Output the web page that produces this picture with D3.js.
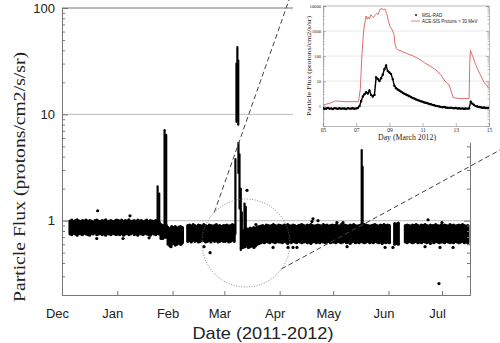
<!DOCTYPE html>
<html><head>
<meta charset="utf-8">
<script src="https://cdnjs.cloudflare.com/ajax/libs/d3/7.8.5/d3.min.js"></script>
<style>
  body { margin: 0; background: #fff; }
  svg { display: block; }
  .sans { font-family: "Liberation Sans", Arial, sans-serif; fill: #222; }
  .serif { font-family: "Liberation Serif", "Times New Roman", serif; fill: #222; }
  .ax path, .ax line { stroke: #777; }
  .iax path, .iax line { stroke: #888; stroke-width: 0.6; }
</style>
</head>
<body>
<svg id="chart" width="500" height="343"></svg>
<script>
// ---- main panel: days counted from 1 Dec 2011 ----
var monthNames = ["Dec", "Jan", "Feb", "Mar", "Apr", "May", "Jun", "Jul"];
var monthStartDay = [0, 31, 62, 91, 122, 152, 183, 213];
var yMajorTicks = [1, 10, 100];

// lower / upper edge of the MSL-RAD dot band, one value per day of month (null = no data)
var decLow  = [null,null,null,null,0.75,0.74,0.76,0.75,0.73,0.76,0.75,0.74,0.76,0.75,0.74,0.73,0.76,0.75,0.77,0.74,0.75,0.76,0.74,0.75,0.73,0.76,0.75,0.74,0.76,0.75,0.74];
var decHigh = [null,null,null,null,0.99,1.01,0.98,1.0,1.02,0.99,0.98,1.0,0.99,1.01,0.98,1.0,0.99,0.97,1.0,1.01,0.99,0.98,1.0,0.99,1.02,0.98,0.99,1.0,0.98,0.99,1.01];
var janLow  = [0.75,0.74,0.76,0.73,0.75,0.76,0.74,0.75,0.77,0.74,0.75,0.73,0.76,0.75,0.74,0.76,0.75,0.74,0.73,0.76,0.75,0.74,0.76,0.75,0.68,0.68,0.7,0.7,0.6,0.58,0.6];
var janHigh = [1.0,0.99,1.01,0.98,1.0,0.99,1.02,0.98,0.99,1.0,0.98,1.01,0.99,1.0,0.98,0.99,1.01,0.98,1.0,0.99,0.98,1.0,0.98,0.96,0.92,0.9,0.9,0.9,0.86,0.84,0.88];
var febLow  = [0.61,0.59,0.6,0.62,0.6,0.62,null,null,0.64,0.65,0.63,0.66,0.64,0.65,0.63,0.64,0.66,0.65,0.63,0.64,0.65,0.63,0.66,0.64,0.65,0.63,0.64,0.65,0.64];
var febHigh = [0.86,0.88,0.85,0.87,0.88,0.86,null,null,0.9,0.91,0.89,0.92,0.9,0.88,0.91,0.9,0.89,0.92,0.9,0.88,0.91,0.9,0.89,0.9,0.92,0.89,0.9,0.88,0.9];
var marLow  = [0.64,0.65,0.63,0.64,0.66,0.64,null,null,null,null,0.56,0.57,0.58,0.56,0.57,0.58,0.59,0.58,0.6,0.61,0.62,0.63,0.62,0.64,0.63,0.62,0.64,0.63,0.62,0.64,0.63];
var marHigh = [0.9,0.91,0.89,0.9,0.92,0.9,null,null,null,null,0.8,0.82,0.84,0.83,0.85,0.84,0.86,0.85,0.87,0.88,0.89,0.9,0.88,0.91,0.9,0.89,0.9,0.92,0.9,0.89,0.91];
var aprLow  = [0.63,0.62,0.64,0.63,0.61,0.63,0.62,0.64,0.63,0.62,0.64,0.63,0.62,0.63,0.64,0.62,0.63,0.61,0.63,0.64,0.62,0.63,0.62,0.64,0.63,0.62,0.63,0.64,0.62,0.63];
var aprHigh = [0.9,0.89,0.91,0.9,0.92,0.9,0.89,0.91,0.9,0.88,0.9,0.91,0.92,0.9,0.89,0.91,0.9,0.92,0.9,0.89,0.9,0.91,0.9,0.89,0.92,0.9,0.91,0.89,0.9,0.91];
var mayLow  = [0.63,0.62,0.64,0.63,0.62,0.63,0.64,0.62,0.63,0.61,0.63,0.64,0.62,0.63,0.62,0.64,0.63,0.62,0.63,0.64,0.62,0.63,0.62,0.64,0.63,0.62,0.63,0.61,0.63,0.62,0.63];
var mayHigh = [0.9,0.91,0.9,0.89,0.92,0.9,0.91,0.9,0.89,0.91,0.9,0.92,0.9,0.89,0.9,0.91,0.9,0.92,0.91,0.9,0.89,0.9,0.91,0.92,0.9,0.89,0.91,0.9,0.92,0.9,0.91];
var junLow  = [0.62,null,null,0.6,0.61,0.6,null,null,null,0.63,0.62,0.64,0.63,0.62,0.63,0.64,0.62,0.63,0.62,0.64,0.63,0.62,0.63,0.61,0.63,0.62,0.64,0.63,0.62,0.63];
var junHigh = [0.9,null,null,0.94,0.93,0.95,null,null,null,0.9,0.91,0.9,0.89,0.91,0.9,0.92,0.9,0.89,0.91,0.9,0.92,0.9,0.89,0.91,0.9,0.9,0.92,0.9,0.89,0.91];
var julLow  = [0.63,0.62,0.64,0.63,0.62,0.63,0.62,0.64,0.63,0.62,0.63,0.64,0.62,0.63,0.62];
var julHigh = [0.9,0.91,0.9,0.89,0.92,0.9,0.91,0.89,0.9,0.91,0.9,0.92,0.9,0.89,0.9];

// solar particle events: columns of dots (day, lowest flux, highest flux)
var eventDay  = [53.6, 54.5, 57.5, 58.4, 97.2, 97.8, 98.3, 98.8, 98.9, 99.5, 100.2, 100.8, 102.3, 103.0, 168.0, 168.5];
var eventLow  = [0.78, 0.8, 0.72, 0.7, 0.75, 8.5, 10, 8, 2.8, 1.3, 0.53, 0.55, 0.58, 0.6, 0.75, 0.8];
var eventHigh = [2.1, 1.8, 7.1, 6.4, 3.8, 30, 43, 32, 5.4, 4.2, 2.0, 1.2, 1.45, 1.35, 4.6, 3.2];

// single dots away from the band
var strayDay  = [20.0, 19.5, 34.2, 48.8, 38.1, 61.1, 66.7, 79.6, 83, 107.6, 103.7, 108.7, 140.7, 143.5, 140.1, 154.1, 157.5, 118.3, 126.7, 129.5, 131.7, 159.8, 181.1, 185.5, 205.2, 213, 211.9, 219.2, 203.5, 211.3];
var strayFlux = [1.24, 0.68, 0.68, 0.69, 1.11, 0.57, 0.6, 0.57, 0.5, 0.56, 1.93, 0.92, 1.04, 1.0, 0.98, 0.96, 0.96, 0.56, 0.56, 0.56, 0.56, 0.57, 0.56, 0.56, 1.02, 0.96, 0.56, 0.56, 0.57, 0.256];

// ---- inset: March 2012 ----
var insetTickDays = [5, 7, 9, 11, 13, 15];
var insetTickLabels = ["05", "07", "09", "11", "13", "15"];
var insetYTicks = [1, 10, 100, 1000, 10000];

var aceDay  = [5.0,5.4,5.74,6.0,6.44,6.8,7.14,7.25,7.34,7.42,7.48,7.6,7.66,7.74,7.8,7.88,7.96,8.04,8.12,8.24,8.32,8.44,8.56,8.66,8.74,8.84,8.94,9.04,9.14,9.2,9.28,9.34,9.42,9.48,9.7,10.0,10.44,10.8,11.1,11.44,11.8,12.1,12.34,12.5,12.6,12.84,13.0,13.24,13.5,13.8,13.84,13.88,13.96,14.04,14.2,14.44,14.7,15.0];
var aceFlux = [1.1,1.3,1.6,1.55,1.5,1.5,1.5,5,100,600,1500,4000,3000,3600,3000,4500,3800,3500,4200,5000,4600,7500,7800,7200,7600,5000,2500,1500,1200,1000,700,300,200,180,160,130,100,75,55,40,28,18,10,8,7,2.2,2.1,2.0,2.0,2.0,50,170,120,90,45,20,9,5];

var radDay  = [5.0,5.1,5.2,5.3,5.4,5.5,5.6,5.7,5.8,5.9,6.0,6.1,6.2,6.3,6.4,6.5,6.6,6.7,6.8,6.9,7.0,7.1,7.2,7.3,7.4,7.5,7.6,7.7,7.8,7.9,8.0,8.1,8.2,8.3,8.4,8.5,8.6,8.7,8.8,8.9,9.0,9.1,9.2,9.3,9.4,9.5,9.6,9.7,9.8,9.9,10.0,10.1,10.2,10.3,10.4,10.5,10.6,10.7,10.8,10.9,11.0,11.1,11.2,11.3,11.4,11.5,11.6,11.7,11.8,11.9,12.0,12.1,12.2,12.3,12.4,12.5,12.6,12.7,12.8,12.9,13.0,13.1,13.2,13.3,13.4,13.5,13.6,13.7,13.8,13.9,14.0,14.1,14.2,14.3,14.4,14.5,14.6,14.7,14.8,14.9,15.0];
var radFlux = [0.82,0.78,0.8,0.84,0.79,0.81,0.77,0.83,0.8,0.78,0.82,0.79,0.81,0.8,0.77,0.83,0.79,0.8,0.82,0.78,0.81,0.84,1.0,1.6,2.4,3.0,3.6,3.2,4.2,2.8,2.4,2.8,14,12,10,13,18,30,42,25,22,19,12,6.5,5.2,4.6,4.2,3.8,3.4,3.1,2.9,2.7,2.5,2.3,2.1,2.0,1.85,1.75,1.65,1.55,1.5,1.4,1.35,1.3,1.22,1.18,1.12,1.08,1.02,1.0,0.96,0.93,0.9,0.92,0.88,0.86,0.85,0.87,0.83,0.82,0.84,0.8,0.82,0.79,0.81,0.78,0.8,0.79,0.81,1.5,1.25,1.1,1.0,0.96,0.92,0.9,0.86,0.88,0.84,0.83,0.85];

var svg = d3.select("#chart");

var x = d3.scaleLinear().domain([0, 228.7]).range([62, 470]);
var y = d3.scaleLog().domain([0.2, 100]).range([295, 8]);

function minorTicks(lo, hi) {
    var out = [];
    for (var dec = lo; dec < hi; dec *= 10)
        for (var k = 1; k <= 9; k++) {
            var v = dec * k;
            if (v >= y.domain()[0] - 1e-9 && v <= y.domain()[1] + 1e-9 && yMajorTicks.indexOf(v) < 0) out.push(v);
        }
    return out;
}

// gridlines
svg.append("g").selectAll("line").data([1, 10]).enter().append("line")
    .attr("x1", x.range()[0]).attr("x2", x.range()[1])
    .attr("y1", function(d) { return y(d); }).attr("y2", function(d) { return y(d); })
    .attr("stroke", "#bbb").attr("stroke-width", 1);

svg.append("clipPath").attr("id", "plotclip").append("rect")
    .attr("x", 62).attr("y", 8).attr("width", 408).attr("height", 287);

var plot = svg.append("g").attr("clip-path", "url(#plotclip)");

// dot band, month by month
var lows = [decLow, janLow, febLow, marLow, aprLow, mayLow, junLow, julLow];
var highs = [decHigh, janHigh, febHigh, marHigh, aprHigh, mayHigh, junHigh, julHigh];
var band = [];
lows.forEach(function(arr, m) {
    arr.forEach(function(v, i) {
        if (v == null) return;
        band.push({ day: monthStartDay[m] + i + 0.5, lo: v, hi: highs[m][i] });
    });
});
plot.append("g").selectAll("line").data(band).enter().append("line")
    .attr("x1", function(d) { return x(d.day); }).attr("x2", function(d) { return x(d.day); })
    .attr("y1", function(d) { return y(d.lo); }).attr("y2", function(d) { return y(d.hi); })
    .attr("stroke", "#000").attr("stroke-width", 3.2).attr("stroke-linecap", "round");

plot.append("g").selectAll("line").data(eventDay).enter().append("line")
    .attr("x1", function(d) { return x(d); }).attr("x2", function(d) { return x(d); })
    .attr("y1", function(d, i) { return y(eventLow[i]); })
    .attr("y2", function(d, i) { return y(eventHigh[i]); })
    .attr("stroke", "#000").attr("stroke-width", 2.2).attr("stroke-linecap", "round");

plot.append("g").selectAll("circle").data(strayDay).enter().append("circle")
    .attr("cx", function(d) { return x(d); })
    .attr("cy", function(d, i) { return y(strayFlux[i]); })
    .attr("r", 1.6).attr("fill", "#000");

// axes, ticks pointing inwards
svg.append("g").attr("class", "ax").attr("transform", "translate(62,0)")
    .call(d3.axisLeft(y).tickValues(yMajorTicks).tickSize(-6).tickPadding(7).tickFormat(d3.format("d")))
    .call(function(g) { g.selectAll("text").attr("class", "sans").style("font-size", "13px").style("font-family", null); });
svg.append("g").attr("class", "ax").attr("transform", "translate(62,0)")
    .call(d3.axisLeft(y).tickValues(minorTicks(0.1, 100)).tickSize(-3).tickFormat(""))
    .select(".domain").remove();
svg.append("g").attr("class", "ax").attr("transform", "translate(470,0)")
    .call(d3.axisRight(y).tickValues(yMajorTicks).tickSize(-6).tickFormat(""));
svg.append("g").attr("class", "ax").attr("transform", "translate(470,0)")
    .call(d3.axisRight(y).tickValues(minorTicks(0.1, 100)).tickSize(-3).tickFormat(""))
    .select(".domain").remove();
svg.append("g").attr("class", "ax").attr("transform", "translate(0,295)")
    .call(d3.axisBottom(x).tickValues(monthStartDay).tickSize(-4).tickFormat(""));
svg.append("line").attr("x1", 62).attr("x2", 470).attr("y1", 8).attr("y2", 8)
    .attr("stroke", "#777");
svg.selectAll(".ax text").attr("fill", "#222");

svg.append("g").selectAll("text").data(monthNames).enter().append("text")
    .attr("class", "sans").style("font-size", "13px")
    .attr("x", function(d, i) { return x(monthStartDay[i]) - 4.5; })
    .attr("y", 318).attr("text-anchor", "middle").text(function(d) { return d; });

svg.append("text").attr("class", "sans").style("font-size", "17px")
    .attr("x", 263).attr("y", 339).attr("text-anchor", "middle")
    .attr("textLength", 141).attr("lengthAdjust", "spacingAndGlyphs")
    .text("Date (2011-2012)");

svg.append("text").attr("class", "serif").style("font-size", "17px")
    .attr("transform", "translate(25,177) rotate(-90)").attr("text-anchor", "middle")
    .attr("textLength", 250).attr("lengthAdjust", "spacingAndGlyphs")
    .text("Particle Flux (protons/cm2/s/sr)");

// zoom circle around the March event and dashed leaders to the inset
var insetBox = { x0: 290, y0: 0, x1: 500, y1: 146 };
var cx = x(103.1), cy = y(0.617), cr = 44;
svg.append("circle").attr("cx", cx).attr("cy", cy).attr("r", cr)
    .attr("fill", "none").attr("stroke", "#777").attr("stroke-width", 0.9)
    .attr("stroke-dasharray", "1,1.6");
var a1 = Math.atan2(-31, -32), a2 = Math.atan2(27, 37);
svg.append("line")
    .attr("x1", cx + cr * Math.cos(a1)).attr("y1", cy + cr * Math.sin(a1))
    .attr("x2", insetBox.x0 - 1).attr("y2", insetBox.y0)
    .attr("stroke", "#444").attr("stroke-width", 1).attr("stroke-dasharray", "5,3");
svg.append("line")
    .attr("x1", cx + cr * Math.cos(a2)).attr("y1", cy + cr * Math.sin(a2))
    .attr("x2", insetBox.x1).attr("y2", insetBox.y1 + 4)
    .attr("stroke", "#444").attr("stroke-width", 1).attr("stroke-dasharray", "5,3");

// ---- inset ----
var inset = svg.append("g");
inset.append("rect").attr("x", insetBox.x0 + 3).attr("y", insetBox.y0)
    .attr("width", insetBox.x1 - insetBox.x0 - 3).attr("height", insetBox.y1 - insetBox.y0 - 3)
    .attr("fill", "#fff");

var ix = d3.scaleLinear().domain([5, 15]).range([323, 489]);
var iy = d3.scaleLog().domain([0.16, 10000]).range([126, 6]);

inset.append("g").selectAll("line").data([1, 10, 100, 1000]).enter().append("line")
    .attr("x1", ix.range()[0]).attr("x2", ix.range()[1])
    .attr("y1", function(d) { return iy(d); }).attr("y2", function(d) { return iy(d); })
    .attr("stroke", "#d8d8d8").attr("stroke-width", 0.6);

var iMinor = [];
[0.1, 1, 10, 100, 1000].forEach(function(dec) {
    for (var k = 2; k <= 9; k++) if (dec * k >= 0.16 && dec * k <= 10000) iMinor.push(dec * k);
});

inset.append("g").attr("class", "iax").attr("transform", "translate(323,0)")
    .call(d3.axisLeft(iy).tickValues(insetYTicks).tickSize(-3).tickPadding(2).tickFormat(d3.format("d")))
    .call(function(g) { g.selectAll("text").attr("class", "serif").style("font-size", "4.6px").style("font-family", null); });
inset.append("g").attr("class", "iax").attr("transform", "translate(323,0)")
    .call(d3.axisLeft(iy).tickValues(iMinor).tickSize(-1.5).tickFormat("")).select(".domain").remove();
inset.append("g").attr("class", "iax").attr("transform", "translate(489,0)")
    .call(d3.axisRight(iy).tickValues(insetYTicks).tickSize(-3).tickFormat(""));
inset.append("g").attr("class", "iax").attr("transform", "translate(489,0)")
    .call(d3.axisRight(iy).tickValues(iMinor).tickSize(-1.5).tickFormat("")).select(".domain").remove();
inset.append("g").attr("class", "iax").attr("transform", "translate(0,126)")
    .call(d3.axisBottom(ix).tickValues(insetTickDays).tickSize(-3).tickPadding(2)
        .tickFormat(function(d, i) { return insetTickLabels[i]; }))
    .call(function(g) { g.selectAll("text").attr("class", "serif").style("font-size", "5.5px").style("font-family", null); });
inset.append("line").attr("x1", 323).attr("x2", 489).attr("y1", 6).attr("y2", 6)
    .attr("stroke", "#888").attr("stroke-width", 0.6);
inset.selectAll(".iax text").attr("fill", "#333");

inset.append("clipPath").attr("id", "insetclip").append("rect")
    .attr("x", 323).attr("y", 6).attr("width", 166).attr("height", 120);
var iplot = inset.append("g").attr("clip-path", "url(#insetclip)");

iplot.append("path").datum(aceDay)
    .attr("d", d3.line().x(function(d) { return ix(d); }).y(function(d, i) { return iy(aceFlux[i]); }))
    .attr("fill", "none").attr("stroke", "#d24a4a").attr("stroke-width", 0.8);

// MSL-RAD: dense dot trace
iplot.append("path").datum(radDay)
    .attr("d", d3.line().x(function(d) { return ix(d); }).y(function(d, i) { return iy(radFlux[i]); }))
    .attr("fill", "none").attr("stroke", "#000").attr("stroke-width", 1.4);
iplot.append("g").selectAll("circle").data(radDay).enter().append("circle")
    .attr("cx", function(d) { return ix(d); })
    .attr("cy", function(d, i) { return iy(radFlux[i]); })
    .attr("r", 1.2).attr("fill", "#000");

inset.append("text").attr("class", "serif").style("font-size", "7px")
    .attr("transform", "translate(311,66) rotate(-90)").attr("text-anchor", "middle")
    .attr("textLength", 100).attr("lengthAdjust", "spacingAndGlyphs")
    .text("Particle Flux (protons/cm2/s/sr)");
inset.append("text").attr("class", "serif").style("font-size", "7.5px")
    .attr("x", 407).attr("y", 140).attr("text-anchor", "middle")
    .attr("textLength", 58).attr("lengthAdjust", "spacingAndGlyphs")
    .text("Day (March 2012)");

// legend
var lg = inset.append("g");
lg.append("circle").attr("cx", 416).attr("cy", 15).attr("r", 0.9).attr("fill", "#000");
lg.append("line").attr("x1", 411).attr("x2", 420).attr("y1", 21).attr("y2", 21)
    .attr("stroke", "#d24a4a").attr("stroke-width", 0.7);
lg.append("text").attr("class", "sans").style("font-size", "4.5px").attr("x", 422).attr("y", 16.5).text("MSL-RAD");
lg.append("text").attr("class", "sans").style("font-size", "4.5px").attr("x", 422).attr("y", 22.5).text("ACE-SIS Protons > 30 MeV");
</script>
</body></html>
